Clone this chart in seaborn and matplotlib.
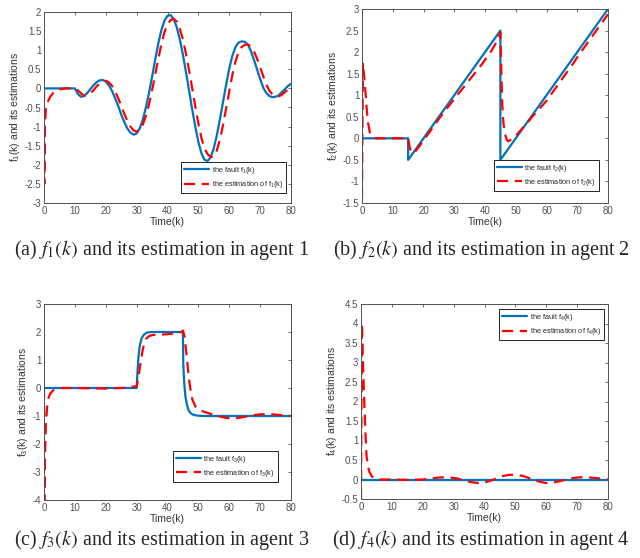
import matplotlib
matplotlib.use("Agg")
import matplotlib.pyplot as plt
import seaborn as sns
import numpy as np
import pandas as pd

# ---------------- data ----------------
# agent 1
t_f1 = list(range(0, 81))
f1_true = [0]*11 + [-0.15, -0.22, -0.20, -0.12, -0.02, 0.08, 0.16, 0.21, 0.22, 0.18,
                    0.08, -0.06, -0.25, -0.45, -0.68, -0.88, -1.05, -1.16, -1.21, -1.18,
                    -1.05, -0.82, -0.50, -0.12, 0.30, 0.75, 1.17, 1.52, 1.77, 1.90,
                    1.92, 1.82, 1.60, 1.28, 0.88, 0.42, -0.06, -0.55, -1.00, -1.40,
                    -1.70, -1.87, -1.90, -1.80, -1.56, -1.22, -0.80, -0.35, 0.10, 0.52,
                    0.85, 1.08, 1.20, 1.23, 1.22, 1.15, 0.98, 0.75, 0.50, 0.25,
                    0.02, -0.12, -0.20, -0.23, -0.22, -0.18, -0.10, -0.02, 0.06, 0.12]
t_f1_est = [0, 0.1, 0.3, 0.6, 1, 1.5, 2, 3, 4, 5, 6] + list(range(7, 81))
f1_est = [0, -2.5, -1.0, -0.55, -0.40, -0.30, -0.22, -0.12, -0.06, -0.03, -0.01,
          0, 0, 0, 0, -0.05, -0.13, -0.19, -0.19, -0.13, -0.05,
          0.05, 0.13, 0.18, 0.20, 0.16, 0.07, -0.07, -0.25, -0.45, -0.66,
          -0.85, -1.00, -1.10, -1.13, -1.08, -0.95, -0.72, -0.42, -0.05, 0.35,
          0.77, 1.15, 1.47, 1.68, 1.79, 1.82, 1.75, 1.56, 1.28, 0.90,
          0.47, 0.00, -0.47, -0.92, -1.30, -1.58, -1.72, -1.80, -1.78, -1.62,
          -1.33, -0.95, -0.52, -0.08, 0.35, 0.70, 0.95, 1.08, 1.14, 1.15,
          1.10, 0.97, 0.78, 0.55, 0.32, 0.10, -0.06, -0.16, -0.20, -0.21,
          -0.17, -0.10, -0.03, 0.03]

# agent 2
t_f2 = [0, 15, 15, 45, 45, 80]
f2_true = [0, 0, -0.5, 2.5, -0.5, 3.0]
t_f2_est = ([0, 0.3, 1, 1.5, 2, 2.5, 3, 4, 5, 14, 14.5, 15, 15.5, 16, 16.5, 17]
            + list(range(18, 45)) + [44.5, 45, 45.3, 45.6, 46, 46.5, 47, 47.5, 48]
            + list(range(49, 81)))
f2_est = ([-1.4, 1.75, 1.2, 0.7, 0.35, 0.15, 0.05, 0.01, 0, 0, 0.02, 0.0, -0.2, -0.32, -0.35, -0.32]
          + [-0.25, -0.15, -0.05, 0.05, 0.15, 0.25, 0.35, 0.45, 0.55, 0.64,
             0.73, 0.82, 0.91, 1.00, 1.09, 1.18, 1.27, 1.36, 1.45, 1.54,
             1.63, 1.72, 1.82, 1.92, 2.02, 2.14, 2.27]
          + [2.36, 2.45, 1.6, 0.8, 0.35, 0.1, -0.02, -0.07, -0.05]
          + [0.0, 0.06, 0.14, 0.22, 0.30, 0.38, 0.47, 0.55, 0.63, 0.71,
             0.79, 0.87, 0.97, 1.07, 1.17, 1.27, 1.37, 1.47, 1.57, 1.67,
             1.77, 1.88, 1.98, 2.08, 2.18, 2.28, 2.38, 2.48, 2.58, 2.68,
             2.78, 2.88])

# agent 3
t_f3 = [0, 30, 30.3, 30.6, 31, 31.6, 32.3, 33.3, 35, 45, 45.1, 45.4, 45.8, 46.3,
        46.8, 47.5, 48.4, 50, 52, 80]
f3_true = [0, 0, 0.6, 1.12, 1.5, 1.77, 1.9, 1.98, 2.0, 2.0, 0.9, 0.2, -0.3, -0.6,
           -0.79, -0.9, -0.96, -0.99, -1.0, -1.0]
t_f3_est = [0, 0.1, 0.3, 0.6, 1, 1.5, 2, 3, 4, 6, 10, 15, 20, 25, 28, 29.5, 30,
            30.5, 31, 31.5, 32, 32.5, 33, 34, 35, 40, 43, 44.5, 45, 45.5, 46, 46.5,
            47, 47.5, 48, 49, 50, 51, 53, 55, 57, 59, 61, 63, 65, 68, 70, 73, 76, 80]
f3_est = [0, -4.0, -2.5, -1.3, -0.7, -0.35, -0.2, -0.08, -0.03, 0, 0.0, -0.01, -0.02,
          0.0, 0.03, 0.06, 0.05, 0.3, 0.7, 1.05, 1.38, 1.6, 1.75, 1.85, 1.89, 1.92,
          1.96, 2.0, 2.05, 1.85, 1.35, 0.8, 0.3, -0.1, -0.4, -0.65, -0.77, -0.82,
          -0.89, -0.96, -1.02, -1.07, -1.09, -1.07, -1.03, -0.97, -0.94, -0.93,
          -0.96, -1.0]

# agent 4
t_f4 = [0, 80]
f4_true = [0, 0]
t_f4_est = [0, 0.3, 0.75, 1.3, 1.8, 2.3, 2.7, 3.5, 4.5, 6, 10, 15, 20, 25, 28, 31,
            34, 36, 38, 40, 42, 44, 46, 48, 50, 52, 54, 56, 58, 60, 62, 64, 66, 68,
            70, 72, 74, 77, 80]
f4_est = [-0.5, 4.0, 2.7, 1.45, 0.6, 0.32, 0.2, 0.08, 0.03, 0.0, 0.0, -0.01, 0.0,
          0.05, 0.06, 0.03, -0.04, -0.07, -0.09, -0.08, -0.03, 0.03, 0.09, 0.12,
          0.12, 0.10, 0.05, -0.01, -0.06, -0.09, -0.08, -0.05, -0.01, 0.03, 0.05,
          0.06, 0.05, 0.03, 0.0]

x_ticks = list(range(0, 81, 10))
ylims = [(-3, 2), (-1.5, 3), (-4, 3), (-0.5, 4.5)]
ystep = [0.5, 0.5, 1, 0.5]
captions = ["(a) $f_1(k)$ and its estimation in agent 1",
            "(b) $f_2(k)$ and its estimation in agent 2",
            "(c) $f_3(k)$ and its estimation in agent 3",
            "(d) $f_4(k)$ and its estimation in agent 4"]

# ---------------- style ----------------
sns.set_style("white")
plt.rcParams['font.family'] = ['Liberation Sans', 'DejaVu Sans']
plt.rcParams['mathtext.fontset'] = 'custom'
plt.rcParams['mathtext.rm'] = 'Liberation Sans'
plt.rcParams['mathtext.it'] = 'Liberation Sans:italic'
plt.rcParams['axes.unicode_minus'] = False

fig = plt.figure(figsize=(6.4, 5.58), dpi=100)
W, H = 640, 558
boxes = [(44, 12, 291, 203), (362, 9, 608, 203), (44, 304, 291, 500), (361, 304, 608, 499)]
legpos = [('lower right', (0.98, 0.052)), ('lower right', (0.963, 0.062)),
          ('lower right', (0.947, 0.092)), ('upper right', (0.984, 0.974))]
cap_pos = [(162, 250), (481, 250), (162, 540), (481, 540)]

series = [(t_f1, f1_true, t_f1_est, f1_est), (t_f2, f2_true, t_f2_est, f2_est),
          (t_f3, f3_true, t_f3_est, f3_est), (t_f4, f4_true, t_f4_est, f4_est)]

blue = '#0072BD'
axcol = '#505050'
for i, (tt, yt, te, ye) in enumerate(series):
    l, t, r, b = boxes[i]
    ax = fig.add_axes([l / W, 1 - b / H, (r - l) / W, (b - t) / H])
    n = i + 1
    sns.lineplot(x=tt, y=yt, ax=ax, color=blue, linewidth=1.6, estimator=None,
                 sort=False, label=f"the fault f$_{n}$(k)")
    sns.lineplot(x=te, y=ye, ax=ax, color='#FF0000', linewidth=1.6, estimator=None,
                 sort=False, dashes=False, label=f"the estimation of f$_{n}$(k)")
    ax.lines[1].set_dashes([5, 3])
    ax.set_xlim(0, 80)
    ax.set_ylim(*ylims[i])
    ax.set_xticks(x_ticks)
    ax.set_yticks(np.arange(ylims[i][0], ylims[i][1] + 1e-9, ystep[i]))
    ax.yaxis.set_major_formatter(matplotlib.ticker.FuncFormatter(lambda v, p: f"{v:g}"))
    ax.tick_params(direction='in', length=2.5, width=0.6, colors=axcol, labelsize=7,
                   top=True, right=True, pad=2)
    for s in ax.spines.values():
        s.set_color(axcol)
        s.set_linewidth(0.7)
    ax.set_xlabel("Time(k)", fontsize=7.5, color='#333333', labelpad=1)
    ax.set_ylabel(f"f$_{n}$(k) and its estimations", fontsize=7.5, color='#333333', labelpad=2)
    loc, anc = legpos[i]
    leg = ax.legend(loc=loc, bbox_to_anchor=anc, borderaxespad=0, fontsize=5.3,
                    frameon=True, fancybox=False, edgecolor='#222222', framealpha=1,
                    handlelength=3.4, handletextpad=0.3, borderpad=0.4, labelspacing=0.45)
    leg.get_frame().set_linewidth(0.7)
    cx, cy = cap_pos[i]
    fig.text(cx / W, 1 - cy / H, captions[i], ha='center', va='center', fontsize=14.5,
             family=['Liberation Serif', 'DejaVu Serif'], math_fontfamily='stix')

fig.savefig("out.png", dpi=100)
